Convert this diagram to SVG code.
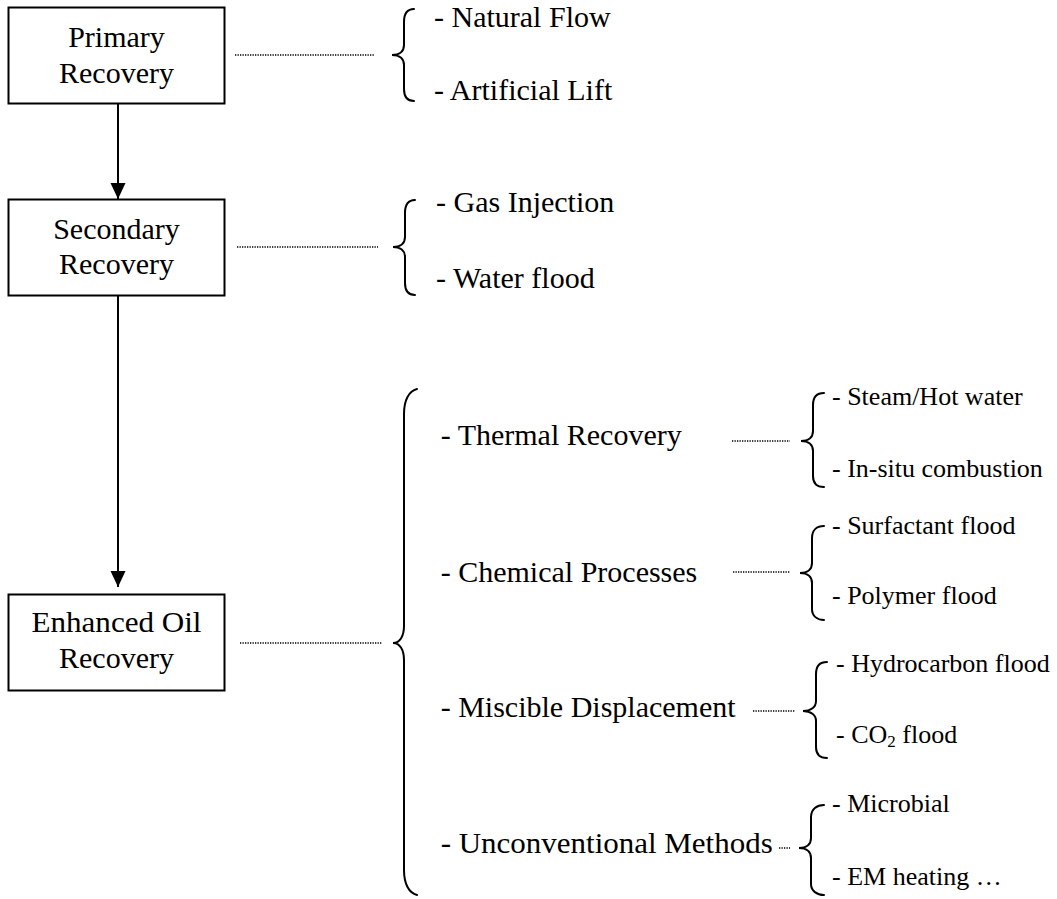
<svg xmlns="http://www.w3.org/2000/svg" width="1057" height="899" viewBox="0 0 1057 899">
<defs>
<style>
.box{fill:#fff;stroke:#000;stroke-width:2}
.t{font-family:"Liberation Serif","Times New Roman",serif;font-size:30px;fill:#000}
.s{font-size:26px}
.c{text-anchor:middle}
.conn{stroke:#000;stroke-width:2;fill:none}
.dot{stroke:#000;stroke-width:1.3;stroke-dasharray:1.3 1.2;fill:none}
.brace{fill:none;stroke:#000;stroke-width:2;stroke-linecap:round}
</style>
<marker id="arr" markerUnits="userSpaceOnUse" markerWidth="16" markerHeight="16" refX="16" refY="7.5" orient="auto">
<path d="M0,0 L16,7.5 L0,15 z" fill="#000"/>
</marker>
</defs>
<rect width="1057" height="899" fill="#fff"/>

<g id="connectors">
<line class="conn" x1="118" y1="103" x2="118" y2="199" marker-end="url(#arr)"/>
<line class="conn" x1="118" y1="296" x2="118" y2="587" marker-end="url(#arr)"/>
<line class="dot" x1="235" y1="55" x2="374" y2="55"/>
<line class="dot" x1="237" y1="247" x2="378" y2="247"/>
<line class="dot" x1="240" y1="643" x2="382" y2="643"/>
<line class="dot" x1="732" y1="441" x2="790" y2="441"/>
<line class="dot" x1="733" y1="572" x2="790" y2="572"/>
<line class="dot" x1="753" y1="711" x2="795" y2="711"/>
<line class="dot" x1="779" y1="848" x2="790" y2="848"/>
</g>

<g id="primary">
<rect class="box" x="8.5" y="7.5" width="216" height="96"/>
<text class="t c" x="116.5" y="47">Primary</text>
<text class="t c" x="116.5" y="83">Recovery</text>
</g>

<g id="secondary">
<rect class="box" x="8.5" y="199.5" width="216" height="96"/>
<text class="t c" x="116.5" y="239">Secondary</text>
<text class="t c" x="116.5" y="274">Recovery</text>
</g>

<g id="eor">
<rect class="box" x="8.5" y="594.5" width="216" height="96"/>
<text class="t c" x="116.5" y="632" textLength="170" lengthAdjust="spacingAndGlyphs">Enhanced Oil</text>
<text class="t c" x="116.5" y="668">Recovery</text>
</g>

<g id="primary-methods">
<path class="brace" d="M414,9 C407,9 404,13 404,22 L404,45 C404,51 400,55 392,55 C400,55 404,59 404,65 L404,89 C404,97 407,101 414,101"/>
<text class="t" x="434" y="27">- Natural Flow</text>
<text class="t" x="434" y="100">- Artificial Lift</text>
</g>

<g id="secondary-methods">
<path class="brace" d="M415,200 C408,200 405,204 405,213 L405,237 C405,243 401,247 393,247 C401,247 405,251 405,257 L405,283 C405,291 408,295 415,295"/>
<text class="t" x="436" y="212">- Gas Injection</text>
<text class="t" x="436" y="288">- Water flood</text>
</g>

<g id="eor-methods">
<path class="brace" d="M417,389 C409,391 404,400 404,414 L404,626 C404,636 400,643 393,643 C400,643 404,650 404,660 L404,870 C404,884 409,893 417,895"/>
<text class="t" x="440.7" y="445">- Thermal Recovery</text>
<text class="t" x="440.7" y="582">- Chemical Processes</text>
<text class="t" x="440.7" y="717">- Miscible Displacement</text>
<text class="t" x="440.7" y="853" textLength="332" lengthAdjust="spacingAndGlyphs">- Unconventional Methods</text>
</g>

<g id="thermal">
<path class="brace" d="M824,393 C817,393 813,397 813,405 L813,431 C813,437 809,441 801,441 C809,441 813,445 813,451 L813,476 C813,483 817,487 824,487"/>
<text class="t s" x="832" y="405">- Steam/Hot water</text>
<text class="t s" x="832" y="477">- In-situ combustion</text>
</g>

<g id="chemical">
<path class="brace" d="M824,526 C817,526 812,530 812,538 L812,563 C812,569 808,573 800,573 C808,573 812,577 812,583 L812,609 C812,616 817,620 824,620"/>
<text class="t s" x="832" y="534">- Surfactant flood</text>
<text class="t s" x="832" y="604">- Polymer flood</text>
</g>

<g id="miscible">
<path class="brace" d="M827,662 C820,662 816,666 816,674 L816,701 C816,707 811,711 803,711 C811,711 816,715 816,721 L816,747 C816,754 820,758 827,758"/>
<text class="t s" x="836" y="672">- Hydrocarbon flood</text>
<text class="t s" x="836" y="743">- CO<tspan font-size="17" dy="4">2</tspan><tspan dy="-4"> flood</tspan></text>
</g>

<g id="unconventional">
<path class="brace" d="M824,805 C817,805 811,809 811,817 L811,838 C811,844 807,848 799,848 C807,848 811,852 811,858 L811,884 C811,891 817,895 824,895"/>
<text class="t s" x="832" y="812">- Microbial</text>
<text class="t s" x="832" y="885">- EM heating …</text>
</g>
</svg>
